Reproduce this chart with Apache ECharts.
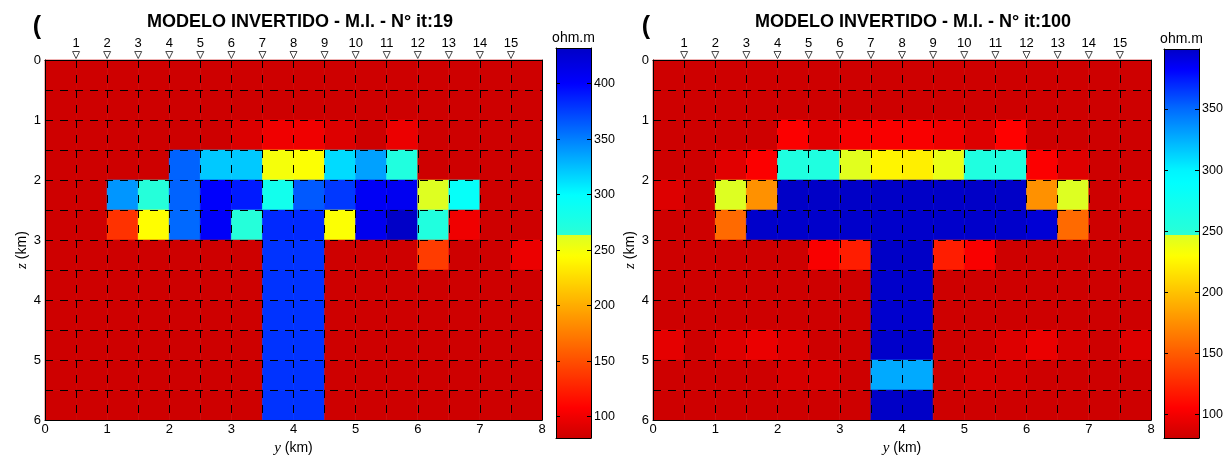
<!DOCTYPE html>
<html><head><meta charset="utf-8">
<script src="https://cdn.jsdelivr.net/npm/echarts@6/dist/echarts.min.js"></script>
<style>html,body{margin:0;padding:0;background:#fff}#c{width:1226px;height:461px}</style>
</head><body><div id="c"></div>
<script>
// ---------------- DATA ----------------
const yCellCenters = [0.25,0.75,1.25,1.75,2.25,2.75,3.25,3.75,4.25,4.75,5.25,5.75,6.25,6.75,7.25,7.75];
const zCellCenters = [0.25,0.75,1.25,1.75,2.25,2.75,3.25,3.75,4.25,4.75,5.25,5.75];
const stationPositions = [0.5,1,1.5,2,2.5,3,3.5,4,4.5,5,5.5,6,6.5,7,7.5];
const stationLabels = ['1','2','3','4','5','6','7','8','9','10','11','12','13','14','15'];
const colorbarTicksIt19 = [100,150,200,250,300,350,400];
const colorbarTicksIt100 = [100,150,200,250,300,350];
const rangeIt19 = [80.8, 432.2];
const rangeIt100 = [80.9, 399.1];
const titleIt19 = 'MODELO INVERTIDO - M.I. - N° it:19';
const titleIt100 = 'MODELO INVERTIDO - M.I. - N° it:100';
const unitLabel = 'ohm.m';

// resistivity (ohm.m), rows = depth cells (top->bottom), cols = y cells (left->right)
const rhoIt19 = [
 [82,82,82,82,82,82,82,82,82,82,82,82,82,82,82,82],
 [82,82,82,82,82,82,82,82,82,82,82,82,82,82,82,82],
 [82,82,82,82,82,82,89,100,100,90,82,98,82,82,82,82],
 [82,82,82,82,361,321,321,250,246,314,337,272,82,82,82,82],
 [82,82,341,268,361,402,390,284,365,378,406,408,262,295,82,82],
 [82,82,135,244,359,404,268,384,384,246,410,432,272,100,82,82],
 [82,82,82,82,82,82,82,380,380,82,82,82,140,82,82,98],
 [82,82,82,82,82,82,82,380,380,82,82,82,82,82,82,82],
 [82,82,82,82,82,82,82,380,380,82,82,82,82,82,82,82],
 [82,82,82,82,82,82,82,380,380,82,82,82,82,82,82,82],
 [82,82,82,82,82,82,82,380,380,82,82,82,82,82,82,82],
 [82,82,82,82,82,82,82,380,380,82,82,82,82,82,82,82]
];
const rhoIt100 = [
 [82,82,82,82,82,82,82,82,82,82,82,82,82,82,82,82],
 [82,82,82,82,82,82,82,82,82,82,82,82,82,82,82,82],
 [82,82,82,82,104,91,101,103,103,98,89,106,82,82,82,82],
 [82,82,91,104,258,258,244,225,222,240,258,258,104,90,82,82],
 [89,82,246,176,399,399,399,399,399,399,399,399,176,246,82,86],
 [82,82,157,398,398,398,398,398,398,398,398,398,395,157,82,82],
 [82,82,82,82,82,103,120,399,399,120,103,82,82,82,82,82],
 [82,82,82,82,82,82,82,398,398,82,82,82,82,82,82,82],
 [82,82,82,82,82,82,82,397,397,82,82,82,82,82,82,82],
 [93,82,89,96,89,82,82,398,398,82,83,89,96,86,82,89],
 [82,82,82,82,86,86,82,327,327,82,86,85,82,82,82,82],
 [82,82,82,82,82,82,82,399,399,82,82,82,82,82,82,82]
];

// ---------------- STYLE (colormap: jet with its green band removed) ----------------
const cmapIt19 = { brk: 263.5,
  lower: [[80.8,0.925],[263.5,0.59]],
  upper: [[263.5,0.416],[300,0.375],[350,0.25],[400,0.125],[432.2,0.07]] };
const cmapIt100 = { brk: 247,
  lower: [[80.9,0.925],[247,0.59]],
  upper: [[247,0.416],[300,0.365],[350,0.23],[399.1,0.07]] };

function jet(t){
  const c = x => Math.max(0, Math.min(1, x));
  return [c(1.5-Math.abs(4*t-3)), c(1.5-Math.abs(4*t-2)), c(1.5-Math.abs(4*t-1))];
}
function interpKnots(kn, v){
  if (v <= kn[0][0]) return kn[0][1];
  for (let i=0;i<kn.length-1;i++){
    const [v0,t0]=kn[i],[v1,t1]=kn[i+1];
    if (v <= v1) return t0 + (t1-t0)*(v-v0)/(v1-v0);
  }
  return kn[kn.length-1][1];
}
function rgbStr(a){ return 'rgb('+a.map(x=>Math.round(x*255)).join(',')+')'; }
function colorFor(v, cm){ return rgbStr(jet(interpKnots(v < cm.brk ? cm.lower : cm.upper, v))); }
function gradientStops(cm, range){
  const [mn,mx]=range, stops=[];
  const addSeg = (kn) => {
    const a=kn[0][0], b=kn[kn.length-1][0], n=80;
    for (let k=n;k>=0;k--){ const v=a+(b-a)*k/n; stops.push({offset:(mx-v)/(mx-mn), color: rgbStr(jet(interpKnots(kn,v)))}); }
  };
  addSeg(cm.upper); addSeg(cm.lower);
  return stops.map(s=>({offset:Math.max(0,Math.min(1,s.offset)),color:s.color}));
}

const FONT = '"Liberation Sans", Arial, Helvetica, sans-serif';
const SERIF = '"Liberation Serif", "DejaVu Serif", serif';
const dashStyle = {color:'#000', width:1, type:[8,7]};

function cellData(rho){
  const out=[];
  rho.forEach((row,r)=>row.forEach((v,c)=>out.push([yCellCenters[c], zCellCenters[r], v])));
  return out;
}
function cellRenderer(cm){
  return function(params, api){
    const x=api.value(0), z=api.value(1), v=api.value(2);
    const a=api.coord([x-0.25, z-0.25]), b=api.coord([x+0.25, z+0.25]);
    const fill=colorFor(v, cm);
    return {type:'rect', shape:{x:Math.min(a[0],b[0]), y:Math.min(a[1],b[1]), width:Math.abs(b[0]-a[0]), height:Math.abs(b[1]-a[1])},
      style:{fill:fill, stroke:fill, lineWidth:0.6}};
  };
}
function cbRenderer(cm, range){
  return function(params, api){
    const a=api.coord([0, api.value(2)]), b=api.coord([1, api.value(1)]);
    return {type:'rect', shape:{x:a[0], y:a[1], width:b[0]-a[0], height:b[1]-a[1]},
      style:{fill:new echarts.graphic.LinearGradient(0,0,0,1, gradientStops(cm, range))}};
  };
}

const intLabel = v => Number.isInteger(v) ? String(v) : '';
function mainAxes(gi){
  const x = [
    {type:'value', gridIndex:gi, min:0, max:8, interval:0.5, position:'bottom', z:10,
     axisLine:{show:true, onZero:false, lineStyle:{color:'#000'}}, axisTick:{show:false},
     axisLabel:{formatter:intLabel, color:'#000', fontSize:13, margin:3, fontFamily:FONT},
     splitLine:{show:true, lineStyle:dashStyle},
     name:'{i|y} (km)', nameLocation:'middle', nameGap:13,
     nameTextStyle:{color:'#000', fontSize:14, fontFamily:FONT, rich:{i:{fontStyle:'italic', fontFamily:SERIF, fontSize:15, color:'#000'}}}},
    {type:'value', gridIndex:gi, min:0, max:8, position:'top', z:10,
     axisLine:{show:true, onZero:false, lineStyle:{color:'#000'}}, axisTick:{show:false}, axisLabel:{show:false}, splitLine:{show:false}}
  ];
  const y = [
    {type:'value', gridIndex:gi, min:0, max:6, interval:0.5, inverse:true, position:'left', z:10,
     axisLine:{show:true, onZero:false, lineStyle:{color:'#000'}}, axisTick:{show:false},
     axisLabel:{formatter:intLabel, color:'#000', fontSize:13, margin:4, fontFamily:FONT},
     splitLine:{show:true, lineStyle:dashStyle},
     name:'{i|z} (km)', nameLocation:'middle', nameGap:14,
     nameTextStyle:{color:'#000', fontSize:14, fontFamily:FONT, padding:[0,20,0,0], rich:{i:{fontStyle:'italic', fontFamily:SERIF, fontSize:15, color:'#000'}}}},
    {type:'value', gridIndex:gi, min:0, max:6, inverse:true, position:'right', z:10,
     axisLine:{show:true, onZero:false, lineStyle:{color:'#000'}}, axisTick:{show:false}, axisLabel:{show:false}, splitLine:{show:false}}
  ];
  return {x, y};
}
function cbAxes(gi, range, ticks){
  const x = [
    {type:'value', gridIndex:gi, min:0, max:1, position:'bottom', z:10,
     axisLine:{show:true, onZero:false, lineStyle:{color:'#000'}}, axisTick:{show:false}, axisLabel:{show:false}, splitLine:{show:false}},
    {type:'value', gridIndex:gi, min:0, max:1, position:'top', z:10,
     axisLine:{show:true, onZero:false, lineStyle:{color:'#000'}}, axisTick:{show:false}, axisLabel:{show:false}, splitLine:{show:false},
     name:unitLabel, nameLocation:'middle', nameGap:3, nameTextStyle:{color:'#000', fontSize:14, fontFamily:FONT, verticalAlign:'bottom'}}
  ];
  const y = [
    {type:'value', gridIndex:gi, min:range[0], max:range[1], position:'left', z:10,
     axisLine:{show:true, onZero:false, lineStyle:{color:'#000'}},
     axisTick:{show:true, inside:true, length:4, customValues:ticks, lineStyle:{color:'#000'}},
     axisLabel:{show:false}, splitLine:{show:false}},
    {type:'value', gridIndex:gi, min:range[0], max:range[1], position:'right', z:10,
     axisLine:{show:true, onZero:false, lineStyle:{color:'#000'}},
     axisTick:{show:true, inside:true, length:4, customValues:ticks, lineStyle:{color:'#000'}},
     axisLabel:{show:true, customValues:ticks, color:'#000', fontSize:12.5, margin:3, fontFamily:FONT},
     splitLine:{show:false}}
  ];
  return {x, y};
}

const A0 = mainAxes(0), A1 = mainAxes(1), C0 = cbAxes(2, rangeIt19, colorbarTicksIt19), C1 = cbAxes(3, rangeIt100, colorbarTicksIt100);

function stationSeries(xi, yi){
  return {type:'scatter', xAxisIndex:xi, yAxisIndex:yi, clip:false, z:20, silent:true,
    data: stationPositions.map(p=>[p,0]),
    symbol:'path://M0,0 L10,0 L5,9 Z', symbolSize:[7,7], symbolOffset:[0,-5],
    itemStyle:{color:'#fff', borderColor:'#333', borderWidth:0.9, opacity:1},
    label:{show:true, position:'top', distance:1, formatter:p=>stationLabels[p.dataIndex], color:'#000', opacity:1, fontSize:13, fontFamily:FONT}};
}

const option = {
  animation:false,
  backgroundColor:'#fff',
  grid:[
    {left:45, top:60, width:497, height:371},
    {left:653, top:60, width:498, height:371},
    {left:556, top:48, width:35, height:390},
    {left:1164, top:49, width:35, height:389}
  ],
  xAxis:[...A0.x, ...A1.x, ...C0.x, ...C1.x],
  yAxis:[...A0.y, ...A1.y, ...C0.y, ...C1.y],
  series:[
    {type:'custom', xAxisIndex:0, yAxisIndex:0, renderItem:cellRenderer(cmapIt19), data:cellData(rhoIt19), silent:true},
    {type:'custom', xAxisIndex:2, yAxisIndex:2, renderItem:cellRenderer(cmapIt100), data:cellData(rhoIt100), silent:true},
    stationSeries(0,0),
    stationSeries(2,2),
    {type:'custom', xAxisIndex:4, yAxisIndex:4, renderItem:cbRenderer(cmapIt19, rangeIt19), data:[[0, rangeIt19[0], rangeIt19[1]]], silent:true},
    {type:'custom', xAxisIndex:6, yAxisIndex:6, renderItem:cbRenderer(cmapIt100, rangeIt100), data:[[0, rangeIt100[0], rangeIt100[1]]], silent:true}
  ],
  graphic:[
    {type:'text', x:300, y:22, style:{text:titleIt19, fontSize:18, fontWeight:'bold', fontFamily:FONT, fill:'#000', align:'center', verticalAlign:'middle'}},
    {type:'text', x:913, y:22, style:{text:titleIt100, fontSize:18, fontWeight:'bold', fontFamily:FONT, fill:'#000', align:'center', verticalAlign:'middle'}},
    {type:'text', x:37, y:27, style:{text:'(', fontSize:25, fontWeight:'bold', fontFamily:FONT, fill:'#000', align:'center', verticalAlign:'middle'}},
    {type:'text', x:646, y:27, style:{text:'(', fontSize:25, fontWeight:'bold', fontFamily:FONT, fill:'#000', align:'center', verticalAlign:'middle'}}
  ]
};
const chart = echarts.init(document.getElementById('c'), null, {renderer:'canvas'});
chart.setOption(option);
</script></body></html>
